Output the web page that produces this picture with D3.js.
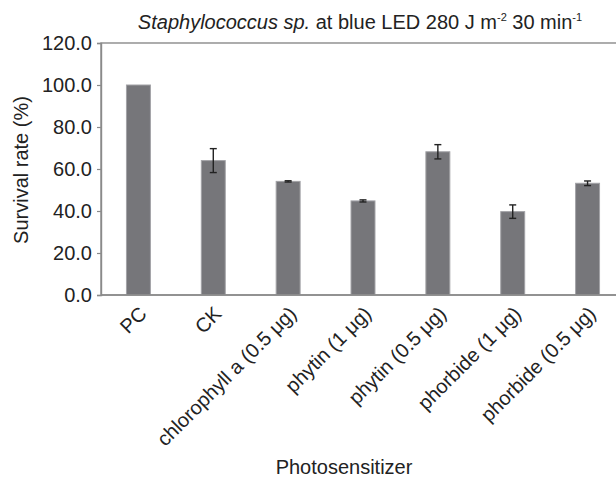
<!DOCTYPE html>
<html>
<head>
<meta charset="utf-8">
<script src="https://cdn.jsdelivr.net/npm/d3@7"></script>
<style>
  body { margin: 0; background: #fff; }
  text { font-family: "Liberation Sans", Arial, sans-serif; fill: #222; }
</style>
</head>
<body>
<svg id="chart" width="616" height="479"></svg>
<script>
const categories = ["PC", "CK", "chlorophyll a (0.5 μg)", "phytin (1 μg)", "phytin (0.5 μg)", "phorbide (1 μg)", "phorbide (0.5 μg)"];
const survival = [100, 64.0, 54.1, 44.8, 68.2, 39.7, 53.2];
const errors = [0, 5.7, 0.3, 0.5, 3.4, 3.2, 1.1];
const yTicks = [0, 20, 40, 60, 80, 100, 120];

const data = categories.map((c, i) => ({ name: c, value: survival[i], err: errors[i] }));

const svg = d3.select("#chart");
const m = { left: 101, top: 43, bottom: 295, right: 625 };
const fs = "20px";

const x = d3.scaleBand().domain(categories).range([m.left, m.right]).paddingInner(0.68).paddingOuter(0.34);
const y = d3.scaleLinear().domain([0, 120]).range([m.bottom, m.top]);

// frame
svg.append("rect")
  .attr("x", m.left).attr("y", m.top)
  .attr("width", m.right - m.left).attr("height", m.bottom - m.top)
  .attr("fill", "none").attr("stroke", "#8a8a8a").attr("stroke-width", 1.4);

// y axis
const yAxis = svg.append("g")
  .attr("transform", `translate(${m.left},0)`)
  .call(d3.axisLeft(y).tickValues(yTicks).tickSize(4).tickFormat(d3.format(".1f")));
yAxis.select(".domain").attr("stroke", "#8a8a8a").attr("stroke-width", 1.4);
yAxis.selectAll(".tick line").attr("stroke", "#8a8a8a").attr("stroke-width", 1.2);
yAxis.selectAll(".tick text")
  .attr("font-size", fs).attr("fill", "#222").attr("x", -9)
  .style("font-family", "Liberation Sans, Arial, sans-serif");

// bars
svg.append("g").selectAll("rect")
  .data(data).enter().append("rect")
  .attr("x", d => x(d.name))
  .attr("y", d => y(d.value))
  .attr("width", x.bandwidth())
  .attr("height", d => y(0) - y(d.value))
  .attr("fill", "#76767a")
  .attr("stroke", "#a2a2a6")
  .attr("stroke-width", 1);

// error bars
const eb = svg.append("g").selectAll("g")
  .data(data.filter(d => d.err > 0)).enter().append("g")
  .attr("stroke", "#222").attr("stroke-width", 1.4);
eb.append("line")
  .attr("x1", d => x(d.name) + x.bandwidth() / 2)
  .attr("x2", d => x(d.name) + x.bandwidth() / 2)
  .attr("y1", d => y(d.value + d.err))
  .attr("y2", d => y(d.value - d.err));
[1, -1].forEach(s => {
  eb.append("line")
    .attr("x1", d => x(d.name) + x.bandwidth() / 2 - 3.5)
    .attr("x2", d => x(d.name) + x.bandwidth() / 2 + 3.5)
    .attr("y1", d => y(d.value + s * d.err))
    .attr("y2", d => y(d.value + s * d.err));
});

// x baseline
svg.append("line")
  .attr("x1", m.left).attr("x2", m.right)
  .attr("y1", m.bottom).attr("y2", m.bottom)
  .attr("stroke", "#8a8a8a").attr("stroke-width", 1.4);

// x labels
svg.append("g").selectAll("text")
  .data(categories).enter().append("text")
  .attr("transform", d => `translate(${x(d) + x.bandwidth() / 2 + 9.5},${m.bottom + 20}) rotate(-45)`)
  .attr("text-anchor", "end")
  .attr("font-size", fs)
  .text(d => d);

// axis titles
svg.append("text")
  .attr("transform", `translate(28,170) rotate(-90)`)
  .attr("text-anchor", "middle")
  .attr("font-size", fs)
  .text("Survival rate (%)");

svg.append("text")
  .attr("x", 344).attr("y", 474)
  .attr("text-anchor", "middle")
  .attr("font-size", fs)
  .text("Photosensitizer");

// title
const title = svg.append("text")
  .attr("x", 360).attr("y", 28.5)
  .attr("text-anchor", "middle")
  .attr("font-size", fs);
title.append("tspan").attr("font-style", "italic").text("Staphylococcus sp.");
title.append("tspan").text(" at blue LED 280 J m");
title.append("tspan").attr("font-size", "11px").attr("dy", -8).text("-2");
title.append("tspan").attr("dy", 8).text(" 30 min");
title.append("tspan").attr("font-size", "11px").attr("dy", -8).text("-1");
</script>
</body>
</html>
